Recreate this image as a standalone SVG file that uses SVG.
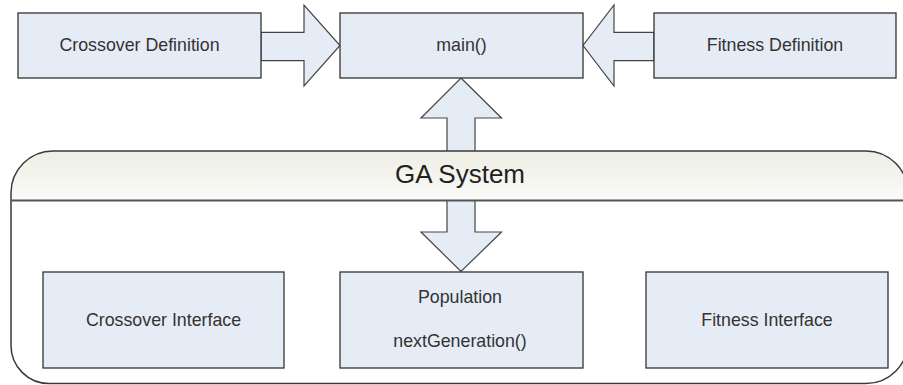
<svg xmlns="http://www.w3.org/2000/svg" width="903" height="385" viewBox="0 0 903 385">
<style>
.box{fill:#e6ecf6;stroke:#333;stroke-width:1.3}
.arr{fill:#e6ecf6;stroke:#444;stroke-width:1.2;stroke-linejoin:miter}
.t{font-family:"Liberation Sans",Arial,sans-serif;font-size:17.8px;fill:#333;text-anchor:middle}
.h{font-family:"Liberation Sans",Arial,sans-serif;font-size:26px;fill:#222;text-anchor:middle}
</style>
<defs>
<linearGradient id="hg" x1="0" y1="0" x2="0" y2="1">
<stop offset="0" stop-color="#eeeee4"/>
<stop offset="1" stop-color="#fbfbf9"/>
</linearGradient>
</defs>
<rect width="903" height="385" fill="#fff"/>
<g id="connectors">
<polygon class="arr" points="261,32.3 304,32.3 304,5 340,45.5 304,86 304,60.7 261,60.7"/>
<polygon class="arr" points="654,32.3 614,32.3 614,5 583,45.5 614,86 614,60.7 654,60.7"/>
<polygon class="arr" points="461,78 501.5,118 475,118 475,232 501.5,232 461,271.5 421,232 447,232 447,118 421,118"/>
</g>
<g id="ga-system">
<path d="M11,201 V193 A42,42 0 0 1 53,151 H866 A42,42 0 0 1 908,193 V201 Z" fill="url(#hg)" stroke="none"/>
<path d="M11,201 V193 A42,42 0 0 1 53,151 H866 A42,42 0 0 1 908,193 V341.5 A42,42 0 0 1 866,383.5 H49 A38,38 0 0 1 11,345.5 Z" fill="none" stroke="#3a3a3a" stroke-width="1.5"/>
<line x1="11" y1="200.5" x2="908" y2="200.5" stroke="#555" stroke-width="2"/>
<text class="h" x="460" y="183">GA System</text>
</g>
<g id="crossover-definition">
<rect class="box" x="18" y="13" width="243" height="65"/>
<text class="t" x="139.5" y="51">Crossover Definition</text>
</g>
<g id="main">
<rect class="box" x="340" y="13" width="243" height="65"/>
<text class="t" x="461.5" y="51">main()</text>
</g>
<g id="fitness-definition">
<rect class="box" x="654" y="13" width="242" height="65"/>
<text class="t" x="775" y="51">Fitness Definition</text>
</g>
<g id="crossover-interface">
<rect class="box" x="43" y="272" width="241" height="96"/>
<text class="t" x="163.5" y="326">Crossover Interface</text>
</g>
<g id="population">
<rect class="box" x="340" y="272" width="243" height="96"/>
<text class="t" x="460" y="303">Population</text>
<text class="t" x="460" y="347">nextGeneration()</text>
</g>
<g id="fitness-interface">
<rect class="box" x="646" y="272" width="242" height="96"/>
<text class="t" x="767" y="326">Fitness Interface</text>
</g>
</svg>
